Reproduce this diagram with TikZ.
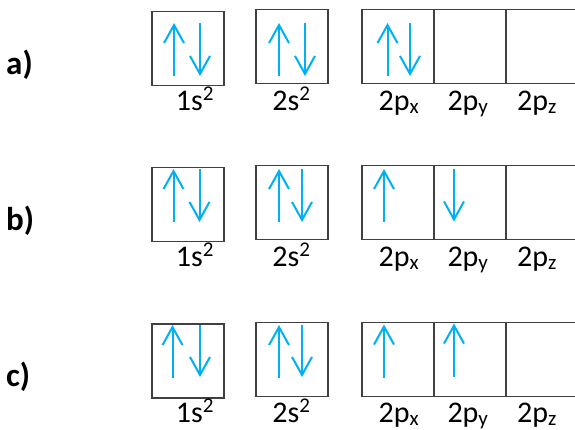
\documentclass[tikz,border=0pt]{standalone}
\usepackage{fontspec}
\setmainfont{Carlito}
\usetikzlibrary{arrows.meta}
\definecolor{eblue}{HTML}{00B0F0}
\definecolor{boxgray}{HTML}{404040}
\newcommand{\orbsup}[1]{\textsuperscript{#1}}
\newcommand{\orbsub}[1]{\textsubscript{#1}}
\begin{document}
\begin{tikzpicture}[x=1pt,y=-1pt,
  orb/.style={draw=boxgray,line width=1.3pt,rectangle,inner sep=0pt,minimum width=72pt,minimum height=74pt},
  spin/.style={draw=eblue,line width=2pt,-{Straight Barb[length=18pt,width=20pt,line width=2pt]}},
  lab/.style={anchor=base,inner sep=0pt,font=\fontsize{30}{36}\selectfont},
  rowlab/.style={anchor=base west,inner sep=0pt,font=\fontsize{33}{40}\selectfont\bfseries}]
\clip (0,0) rectangle (575,429);
\fill[white] (0,0) rectangle (575,429);
% row labels
\node[rowlab] (la) at (6,74) {a)};
\node[rowlab] (lb) at (6,230) {b)};
\node[rowlab] (lc) at (6,386) {c)};
% ---------- row a ----------
\node[orb] (a1) at (188,48.2) {};
\node[orb] (a2) at (292,46.5) {};
\node[orb] (ax) at (398,46.5) {};
\node[orb] (ay) at (470,46.5) {};
\node[orb] (az) at (542,46.5) {};
\draw[spin] (174,76) -- (174,23);
\draw[spin] (200,23) -- (200,76);
\draw[spin] (279,76) -- (279,23);
\draw[spin] (305,23) -- (305,76);
\draw[spin] (387.5,76) -- (387.5,23);
\draw[spin] (410,23) -- (410,76);
\node[lab] (ta1) at (195,110) {1s\orbsup{2}};
\node[lab] (ta2) at (291.5,110) {2s\orbsup{2}};
\node[lab] (tax) at (399,110) {2p\orbsub{x}};
\node[lab] (tay) at (468,110) {2p\orbsub{y}};
\node[lab] (taz) at (537,110) {2p\orbsub{z}};
% ---------- row b ----------
\node[orb] (b1) at (188,204.2) {};
\node[orb] (b2) at (292,202.5) {};
\node[orb] (bx) at (398,202.5) {};
\node[orb] (by) at (470,202.5) {};
\node[orb] (bz) at (542,202.5) {};
\draw[spin] (173.5,222) -- (173.5,169);
\draw[spin] (199.5,169) -- (199.5,222);
\draw[spin] (279,222) -- (279,169);
\draw[spin] (302,169) -- (302,222);
\draw[spin] (384,222) -- (384,169);
\draw[spin] (454,168.5) -- (454,221.5);
\node[lab] (tb1) at (195,266) {1s\orbsup{2}};
\node[lab] (tb2) at (291.5,266) {2s\orbsup{2}};
\node[lab] (tbx) at (399,266) {2p\orbsub{x}};
\node[lab] (tby) at (468,266) {2p\orbsub{y}};
\node[lab] (tbz) at (537,266) {2p\orbsub{z}};
% ---------- row c ----------
\node[orb] (c1) at (188,361) {};
\node[orb] (c2) at (292,359.2) {};
\node[orb] (cx) at (398,359.2) {};
\node[orb] (cy) at (470,359.2) {};
\node[orb] (cz) at (542,359.2) {};
\draw[spin] (172.5,378) -- (172.5,325);
\draw[spin] (200,325) -- (200,377);
\draw[spin] (279,378) -- (279,325);
\draw[spin] (302,325) -- (302,377);
\draw[spin] (384,378) -- (384,324.5);
\draw[spin] (454,376.5) -- (454,323.5);
\node[lab] (tc1) at (195,422) {1s\orbsup{2}};
\node[lab] (tc2) at (291.5,422) {2s\orbsup{2}};
\node[lab] (tcx) at (399,422) {2p\orbsub{x}};
\node[lab] (tcy) at (468,422) {2p\orbsub{y}};
\node[lab] (tcz) at (537,422) {2p\orbsub{z}};
\end{tikzpicture}
\end{document}
